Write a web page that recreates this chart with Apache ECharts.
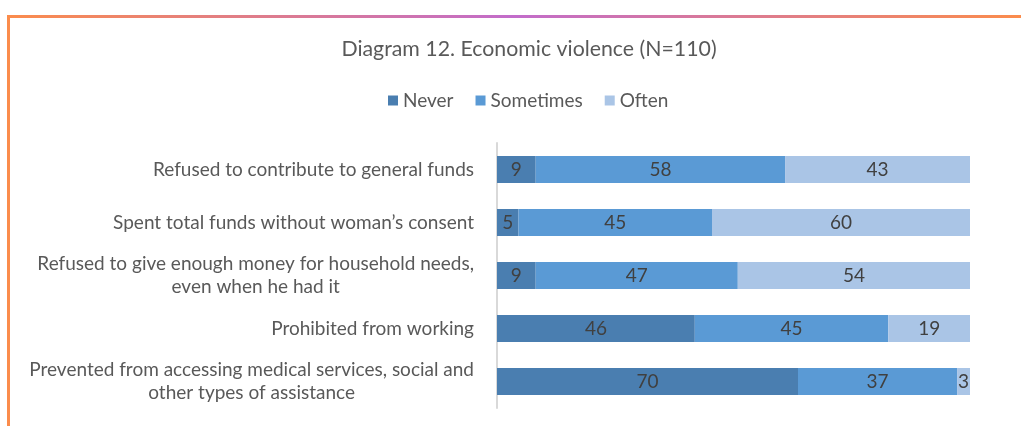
<!DOCTYPE html>
<html>
<head>
<meta charset="utf-8">
<script src="https://cdn.jsdelivr.net/npm/echarts@6/dist/echarts.min.js"></script>
<style>
  html, body { margin: 0; padding: 0; background: #fff; }
  #chart { width: 1021px; height: 426px; }
  .frame-top {
    position: absolute; left: 7px; top: 15px; width: 1014px; height: 3px;
    background: linear-gradient(to right, #fb8c4c, #c26ccb 50%, #fb8c4c);
  }
  .frame-left {
    position: absolute; left: 7px; top: 15px; width: 3px; height: 411px;
    background: #fb8c4c;
  }
</style>
</head>
<body>
<div id="chart"></div>
<div class="frame-top"></div>
<div class="frame-left"></div>
<script>
// categories, top to bottom as in the picture
const categories = [
  'Refused to contribute to general funds',
  'Spent total funds without woman\u2019s consent',
  'Refused to give enough money for household needs,\neven when he had it',
  'Prohibited from working',
  'Prevented from accessing medical services, social and\nother types of assistance'
]
const never = [9, 5, 9, 46, 70]
const sometimes = [58, 45, 47, 45, 37]
const often = [43, 60, 54, 19, 3]

const colors = ['#4a7eb0', '#5a9ad5', '#aac5e6']
const font = 'Lato, "Open Sans", sans-serif'

function barSeries(name, data, color) {
  return {
    name: name,
    type: 'bar',
    stack: 'total',
    barWidth: '51%',
    data: data,
    itemStyle: { color: color },
    label: {
      show: true,
      position: 'inside',
      color: '#404040',
      fontFamily: font,
      fontSize: 19
    }
  }
}

const chart = echarts.init(document.getElementById('chart'))
chart.setOption({
  animation: false,
  title: {
    text: 'Diagram 12. Economic violence (N=110)',
    left: 524,
    textAlign: 'center',
    top: 34,
    textStyle: { fontFamily: font, fontSize: 21.3, fontWeight: 'normal', color: '#595959' }
  },
  legend: {
    top: 86,
    left: 383,
    icon: 'rect',
    itemWidth: 10,
    itemHeight: 10,
    itemGap: 22,
    textStyle: { fontFamily: font, fontSize: 19, color: '#595959' }
  },
  grid: { left: 497, right: 51, top: 143, bottom: 18 },
  xAxis: {
    type: 'value',
    min: 0,
    max: 110,
    show: false
  },
  yAxis: {
    type: 'category',
    data: categories,
    inverse: true,
    axisTick: { show: false },
    axisLine: { lineStyle: { color: '#d9d9d9', width: 2 } },
    axisLabel: {
      margin: 23,
      fontFamily: font,
      fontSize: 19,
      color: '#595959',
      lineHeight: 23,
      formatter: function (v) {
        return v.split('\n').map(function (s) { return '{c|' + s + '}' }).join('\n')
      },
      rich: { c: { align: 'center', fontFamily: font, fontSize: 19, color: '#595959', lineHeight: 23 } }
    }
  },
  series: [
    barSeries('Never', never, colors[0]),
    barSeries('Sometimes', sometimes, colors[1]),
    barSeries('Often', often, colors[2])
  ]
})
</script>
</body>
</html>
